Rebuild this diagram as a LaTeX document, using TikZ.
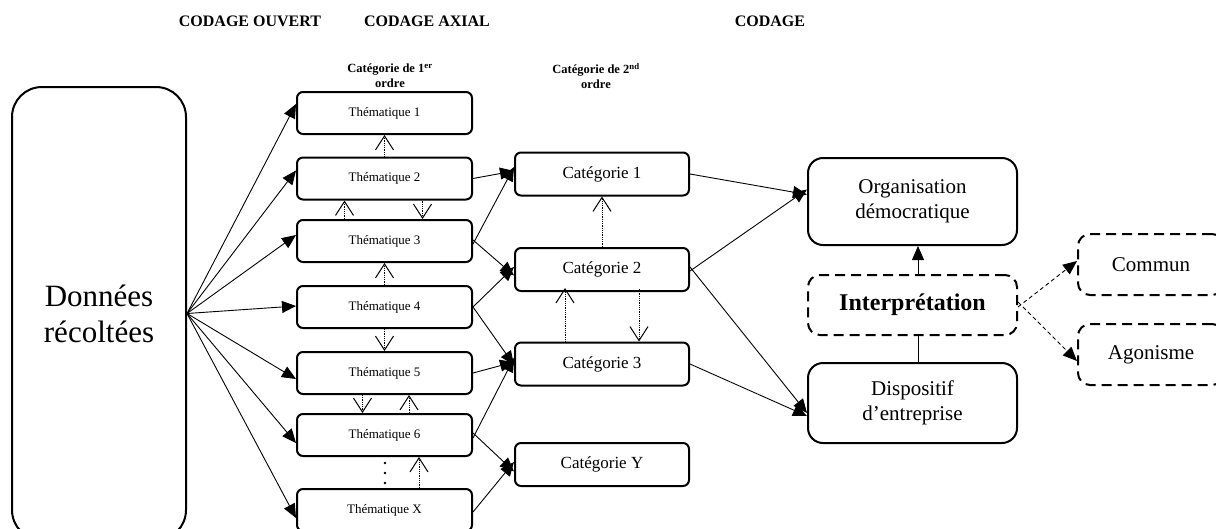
\documentclass[tikz,border=0pt]{standalone}
\usepackage{fontspec}
\setmainfont{Liberation Serif}
\usetikzlibrary{arrows.meta,calc}
\begin{document}
\begin{tikzpicture}[x=1pt,y=-1pt,
  box/.style={draw, line width=2pt, rounded corners=6pt, align=center, inner sep=0pt},
  thbox/.style={box, minimum width=175pt, minimum height=42pt, font=\fontsize{13}{15}\selectfont},
  catbox/.style={box, minimum width=174pt, minimum height=43pt, font=\fontsize{17}{20}\selectfont},
  bigbox/.style={box, rounded corners=15pt, minimum width=209pt, font=\fontsize{21}{25}\selectfont},
  dashbox/.style={box, dash pattern=on 10pt off 6pt, rounded corners=12pt},
  arr/.style={line width=0.9pt, -{Triangle[length=14pt,width=12pt]}},
  darr/.style={line width=0.9pt, dash pattern=on 4pt off 3pt, -{Triangle[length=14pt,width=12pt]}},
  dotarr/.style={line width=0.8pt, densely dotted, -{Straight Barb[length=14pt,width=18pt,line width=1pt]}},
  hdr/.style={font=\bfseries\fontsize{16}{19}\selectfont},
  sub/.style={font=\bfseries\fontsize{12.5}{15}\selectfont, align=center, inner sep=0pt}
]
\useasboundingbox (0,0) rectangle (1216,528);
\clip (0,0) rectangle (1216,528);

% headers
\node[hdr] (h1) at (250,21) {CODAGE OUVERT};
\node[hdr] (h2) at (427,21) {CODAGE AXIAL};
\node[hdr] (h3) at (770,21) {CODAGE};
\node[sub] (s1) at (390,76) {Catégorie de 1\textsuperscript{er}\\ordre};
\node[sub] (s2) at (596,76) {Catégorie de 2\textsuperscript{nd}\\ordre};

% data box
\node[box, rounded corners=30pt, minimum width=174pt, minimum height=453pt,
      font=\fontsize{31}{36}\selectfont] (don) at (99,313.5) {Données\\récoltées};

% thematiques
\node[thbox] (t1) at (384.5,113) {Thématique 1};
\node[thbox] (t2) at (384.5,178.5) {Thématique 2};
\node[thbox] (t3) at (384.5,241) {Thématique 3};
\node[thbox] (t4) at (384.5,307) {Thématique 4};
\node[thbox] (t5) at (384.5,373) {Thématique 5};
\node[thbox] (t6) at (384.5,435) {Thématique 6};
\node[thbox] (tx) at (384.5,510) {Thématique X};

% categories
\node[catbox] (c1) at (602,174) {Catégorie 1};
\node[catbox] (c2) at (602,269.5) {Catégorie 2};
\node[catbox] (c3) at (602,364) {Catégorie 3};
\node[catbox] (cy) at (602,464.5) {Catégorie Y};

% right side
\node[bigbox, minimum height=87pt] (org) at (912.5,201.5) {Organisation\\démocratique};
\node[dashbox, minimum width=209pt, minimum height=60pt, font=\bfseries\fontsize{24}{28}\selectfont] (int) at (912.5,305) {Interprétation};
\node[bigbox, minimum height=80pt] (disp) at (912.5,403) {Dispositif\\d’entreprise};
\node[dashbox, minimum width=146pt, minimum height=61pt, font=\fontsize{21}{25}\selectfont, text width=146pt] (com) at (1151,264.5) {Commun\hspace*{6pt}};
\node[dashbox, minimum width=146pt, minimum height=61pt, font=\fontsize{21}{25}\selectfont, text width=146pt] (ago) at (1151,354.5) {Agonisme\hspace*{6pt}};

% data -> thematiques
\draw[arr] (don.east) -- ([yshift=9pt]t1.west);
\draw[arr] (don.east) -- ([yshift=8pt]t2.west);
\draw[arr] (don.east) -- ([yshift=6pt]t3.west);
\draw[arr] (don.east) -- ([yshift=1pt]t4.west);
\draw[arr] (don.east) -- ([yshift=-6pt]t5.west);
\draw[arr] (don.east) -- ([yshift=-8pt]t6.west);
\draw[arr] (don.east) -- ([yshift=-8pt]tx.west);

% thematiques -> categories
\draw[arr] (t2.east) -- ([yshift=3pt]c1.west);
\draw[arr] ([yshift=-3pt]t3.east) -- ([yshift=7pt]c1.west);
\draw[arr] ([yshift=1pt]t3.east) -- ([yshift=-6pt]c2.west);
\draw[arr] (t4.east) -- ([yshift=2.5pt]c2.west);
\draw[arr] (t4.east) -- ([yshift=-1pt]c3.west);
\draw[arr] (t5.east) -- ([yshift=2pt]c3.west);
\draw[arr] ([yshift=-3pt]t6.east) -- ([yshift=6pt]c3.west);
\draw[arr] ([yshift=2pt]t6.east) -- ([yshift=-7pt]cy.west);
\draw[arr] ([yshift=-2pt]tx.east) -- ([yshift=2.5pt]cy.west);

% categories -> right
\draw[arr] (c1.east) -- ([yshift=7pt]org.west);
\draw[arr] ([yshift=-1.5pt]c2.east) -- ([yshift=12pt]org.west);
\draw[arr] ([yshift=2.5pt]c2.east) -- ([yshift=-10pt]disp.west);
\draw[arr] (c3.east) -- ([yshift=-13pt]disp.west);

\draw[arr] ([xshift=5.5pt]int.north) -- ([xshift=5.5pt]org.south);
\draw[line width=0.9pt] ([xshift=5.5pt]disp.north) -- ([xshift=5.5pt]int.south);
\draw[darr] ([yshift=-2pt]int.east) -- ([yshift=3.5pt]com.west);
\draw[darr] ([yshift=3pt]int.east) -- ([yshift=-6.5pt]ago.west);

% dotted arrows between thematiques
\draw[dotarr] (t2.north) -- (t1.south);
\draw[dotarr] ([xshift=-40pt]t3.north) -- ([xshift=-40pt]t2.south);
\draw[dotarr] ([xshift=38pt]t2.south) -- ([xshift=38pt]t3.north);
\draw[dotarr] (t4.north) -- (t3.south);
\draw[dotarr] (t4.south) -- (t5.north);
\draw[dotarr] ([xshift=-22pt]t5.south) -- ([xshift=-22pt]t6.north);
\draw[dotarr] ([xshift=24.5pt]t6.north) -- ([xshift=24.5pt]t5.south);
\draw[dotarr] ([xshift=34.5pt]tx.north) -- ([xshift=34.5pt]t6.south);
\foreach \yy in {463,473,483} \fill (385,\yy) circle (1.4pt);

% dotted arrows between categories
\draw[dotarr] (c2.north) -- (c1.south);
\draw[dotarr] ([xshift=-37pt]c3.north) -- ([xshift=-37pt,yshift=4pt]c2.south);
\draw[dotarr] ([xshift=37pt,yshift=3pt]c2.south) -- ([xshift=37pt]c3.north);
\end{tikzpicture}
\end{document}
